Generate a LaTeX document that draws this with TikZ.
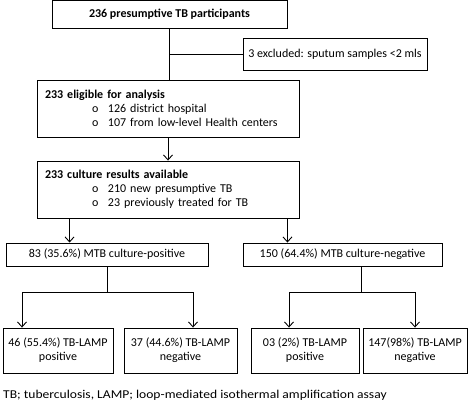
\documentclass[tikz,border=0pt]{standalone}
\usepackage{fontspec}
\setmainfont{Carlito}
\usetikzlibrary{arrows.meta, positioning}
\tikzset{
x=1pt, y=-1pt,
every node/.style={font=\fontsize{12}{14}\selectfont, inner sep=0pt},
box/.style={draw, line width=0.9pt, align=center}, % plain boxes
listbox/.style={box, align=left, text width=246pt, minimum height=57pt}, % boxes with a list
line/.style={line width=0.9pt},
arr/.style={line, -{Straight Barb[length=5pt, width=9pt, line width=0.9pt]}},
}
\newcommand{\blt}{\hspace*{47pt}\makebox[16pt][l]{o}}

\begin{document}
\begin{tikzpicture}
\useasboundingbox (0,0) rectangle (473,407);

\node[box, minimum width=235pt, minimum height=28pt] (top) at (169.5,14) {\textbf{236 presumptive TB participants}};
\node[box, minimum width=184pt, minimum height=32pt] (excl) at (335,54) {3 excluded: sputum samples <2 mls};

\node[listbox, minimum width=262pt] (elig) at (168,108.5) {\textbf{233 eligible for analysis}\\
\blt 126 district hospital\\
\blt 107 from low-level Health centers};
\node[listbox, minimum width=262pt] (cult) at (168,189.5) {\textbf{233 culture results available}\\
\blt 210 new presumptive TB\\
\blt 23 previously treated for TB};

\node[box, minimum width=202pt, minimum height=23pt] (pos) at (107,254.5) {83 (35.6\%) MTB culture-positive};
\node[box, minimum width=199pt, minimum height=23pt] (neg) at (342.5,254.5) {150 (64.4\%) MTB culture-negative};

\node[box, minimum width=110pt, minimum height=45pt] (lpos) at (58,350.5) {46 (55.4\%) TB-LAMP\\positive};
\node[box, minimum width=113pt, minimum height=45pt] (lneg) at (180.5,350.5) {37 (44.6\%) TB-LAMP\\negative};
\node[box, minimum width=108pt, minimum height=45pt] (rpos) at (305,350.5) {03 (2\%) TB-LAMP\\positive};
\node[box, minimum width=104pt, minimum height=45pt] (rneg) at (415,350.5) {147(98\%) TB-LAMP\\negative};

\node[anchor=west, xscale=1.13] (note) at (3,395) {TB; tuberculosis, LAMP; loop-mediated isothermal amplification assay};

% exclusion branch
\draw[line] (top.south) -- (elig.north -| top.south);
\coordinate (xsplit) at (169,54);
\draw[line] (xsplit) -- (excl.west);
\draw[arr] (elig.south) -- (cult.north);

% culture split
\draw[arr] ([xshift=33pt]cult.south west) -- ([xshift=33pt]cult.south west |- pos.north);
\draw[arr] ([xshift=-12pt]cult.south east) -- ([xshift=-12pt]cult.south east |- neg.north);

% TB-LAMP splits
\coordinate (la) at (22,292);
\coordinate (lb) at (193,292);
\coordinate (ra) at (289,292);
\coordinate (rb) at (415,292);
\draw[line] (pos.south) -- (pos.south |- la);
\draw[line] (la) -- (lb);
\draw[arr] (la) -- (la |- lpos.north);
\draw[arr] (lb) -- (lb |- lneg.north);
\draw[line] ([xshift=19pt]neg.south) -- ([xshift=19pt]neg.south |- ra);
\draw[line] (ra) -- (rb);
\draw[arr] (ra) -- (ra |- rpos.north);
\draw[arr] (rb) -- (rb |- rneg.north);
\end{tikzpicture}
\end{document}
